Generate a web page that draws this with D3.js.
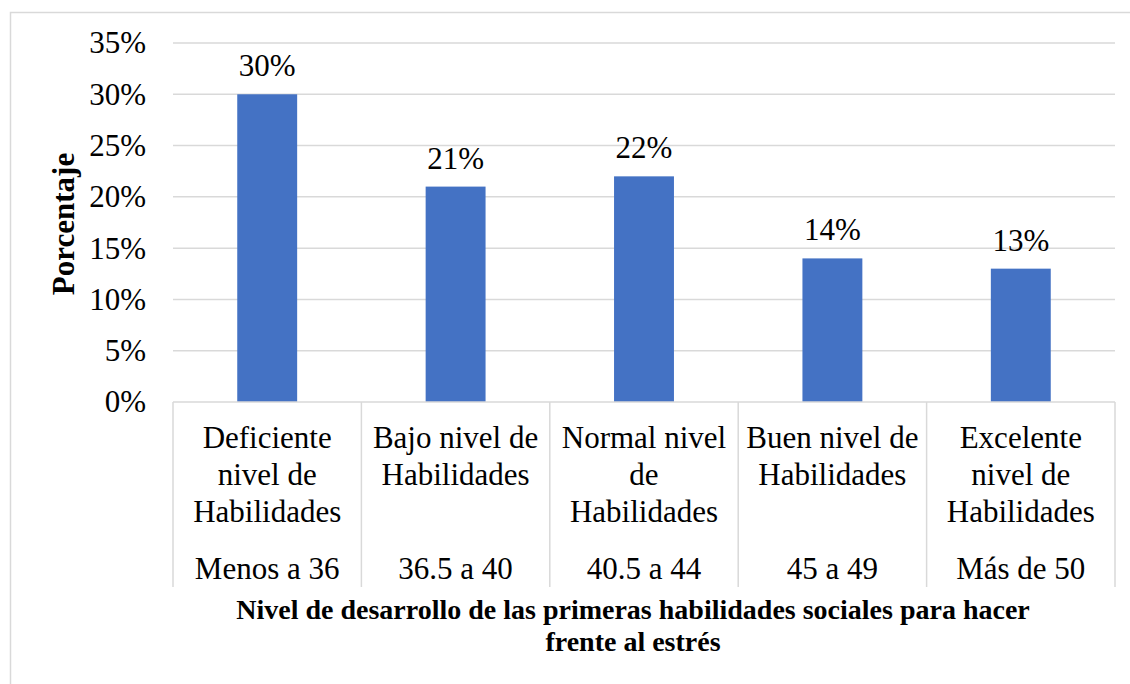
<!DOCTYPE html>
<html>
<head>
<meta charset="utf-8">
<script src="https://cdn.jsdelivr.net/npm/d3@7"></script>
<style>
  svg text { font-family: "Liberation Serif", "Times New Roman", serif !important; }
</style>
</head>
<body style="margin:0; background:#fff">
<div class="chart"></div>
<script>
const svgWidth = 1130;
const svgHeight = 684;

// chart data
const categories = ['Deficiente', 'Bajo', 'Normal', 'Buen', 'Excelente'];
const levelLabels = [
  ['Deficiente', 'nivel de', 'Habilidades'],
  ['Bajo nivel de', 'Habilidades'],
  ['Normal nivel', 'de', 'Habilidades'],
  ['Buen nivel de', 'Habilidades'],
  ['Excelente', 'nivel de', 'Habilidades']
];
const rangeLabels = ['Menos a 36', '36.5 a 40', '40.5 a 44', '45 a 49', 'Más de 50'];
const values = [0.30, 0.21, 0.22, 0.14, 0.13];
const yTicks = [0, 0.05, 0.10, 0.15, 0.20, 0.25, 0.30, 0.35];

const margin = { top: 43, right: 15, bottom: 282, left: 173 };
const width = svgWidth - margin.left - margin.right;
const height = svgHeight - margin.top - margin.bottom;

const fontFamily = '"Liberation Serif"';
const gridColor = '#d9d9d9';
const barColor = '#4472c4';
const fontSize = 31;

const svg = d3.select('.chart')
  .append('svg')
  .attr('width', svgWidth)
  .attr('height', svgHeight)
  .attr('font-family', 'Liberation Serif');

// outer chart border (only top and left visible)
svg.append('path')
  .attr('d', `M10.5,${svgHeight} V12.5 H${svgWidth}`)
  .attr('fill', 'none')
  .attr('stroke', gridColor)
  .attr('stroke-width', 1.5);

const chartGroup = svg.append('g')
  .attr('transform', `translate(${margin.left}, ${margin.top})`);

const yScale = d3.scaleLinear()
  .domain([0, 0.35])
  .range([height, 0]);

const xCells = d3.scaleBand()
  .domain(categories)
  .range([0, width])
  .padding(0);

const xBars = d3.scaleBand()
  .domain(categories)
  .range([0, width])
  .paddingInner(0.682)
  .paddingOuter(0.341);

// gridlines
chartGroup.append('g')
  .selectAll('line')
  .data(yTicks.slice(1))
  .enter()
  .append('line')
  .attr('x1', 0)
  .attr('x2', width)
  .attr('y1', d => yScale(d))
  .attr('y2', d => yScale(d))
  .attr('stroke', gridColor)
  .attr('stroke-width', 1.5);

// y tick labels
const yAxis = d3.axisLeft(yScale)
  .tickValues(yTicks)
  .tickFormat(d3.format('.0%'))
  .tickSize(0)
  .tickPadding(27);

chartGroup.append('g')
  .call(yAxis)
  .attr('font-family', null)
  .attr('font-size', null)
  .call(g => g.select('.domain').remove())
  .selectAll('text')
  .attr('font-size', fontSize);

// bars
chartGroup.selectAll('rect.bar')
  .data(values)
  .enter()
  .append('rect')
  .attr('class', 'bar')
  .attr('x', (d, i) => xBars(categories[i]))
  .attr('width', xBars.bandwidth())
  .attr('y', d => yScale(d))
  .attr('height', d => height - yScale(d))
  .attr('fill', barColor);

// data labels
chartGroup.selectAll('text.value')
  .data(values)
  .enter()
  .append('text')
  .attr('class', 'value')
  .attr('x', (d, i) => xCells(categories[i]) + xCells.bandwidth() / 2)
  .attr('y', d => yScale(d) - 18)
  .attr('text-anchor', 'middle')
  .attr('font-size', fontSize)
  .text(d => d3.format('.0%')(d));

// category axis line and separators
const sepBottom = height + 185;
chartGroup.append('line')
  .attr('x1', 0)
  .attr('x2', width)
  .attr('y1', height)
  .attr('y2', height)
  .attr('stroke', gridColor)
  .attr('stroke-width', 1.5);

const sepX = categories.map(c => xCells(c)).concat([width]);
chartGroup.append('g')
  .selectAll('line')
  .data(sepX)
  .enter()
  .append('line')
  .attr('x1', d => d)
  .attr('x2', d => d)
  .attr('y1', height)
  .attr('y2', sepBottom)
  .attr('stroke', gridColor)
  .attr('stroke-width', 1.5);

// multi-line category labels (one text per line)
const lineHeight = 37;
levelLabels.forEach((lines, i) => {
  chartGroup.append('g')
    .selectAll('text')
    .data(lines)
    .enter()
    .append('text')
    .attr('text-anchor', 'middle')
    .attr('font-size', fontSize)
    .attr('x', xCells(categories[i]) + xCells.bandwidth() / 2)
    .attr('y', (d, j) => height + 46 + j * lineHeight)
    .text(d => d);
});

// range labels
chartGroup.append('g')
  .selectAll('text')
  .data(rangeLabels)
  .enter()
  .append('text')
  .attr('text-anchor', 'middle')
  .attr('font-size', fontSize)
  .attr('x', (d, i) => xCells(categories[i]) + xCells.bandwidth() / 2)
  .attr('y', height + 177)
  .text(d => d);

// x axis title
const titleLines = ['Nivel de desarrollo de las primeras habilidades sociales para hacer', 'frente al estrés'];
svg.append('g')
  .selectAll('text')
  .data(titleLines)
  .enter()
  .append('text')
  .attr('text-anchor', 'middle')
  .attr('font-size', 28)
  .attr('font-weight', 'bold')
  .attr('x', margin.left + width / 2 - 11)
  .attr('y', (d, i) => 619 + i * 32)
  .text(d => d);

// y axis title
svg.append('text')
  .attr('transform', `translate(74, 224) rotate(-90)`)
  .attr('text-anchor', 'middle')
  .attr('font-size', 31)
  .attr('font-weight', 'bold')
  .text('Porcentaje');

// serif font on every label
svg.selectAll('text')
  .attr('font-family', 'Liberation Serif')
  .style('font-family', fontFamily, 'important')
  .attr('fill', '#000');
</script>
</body>
</html>
